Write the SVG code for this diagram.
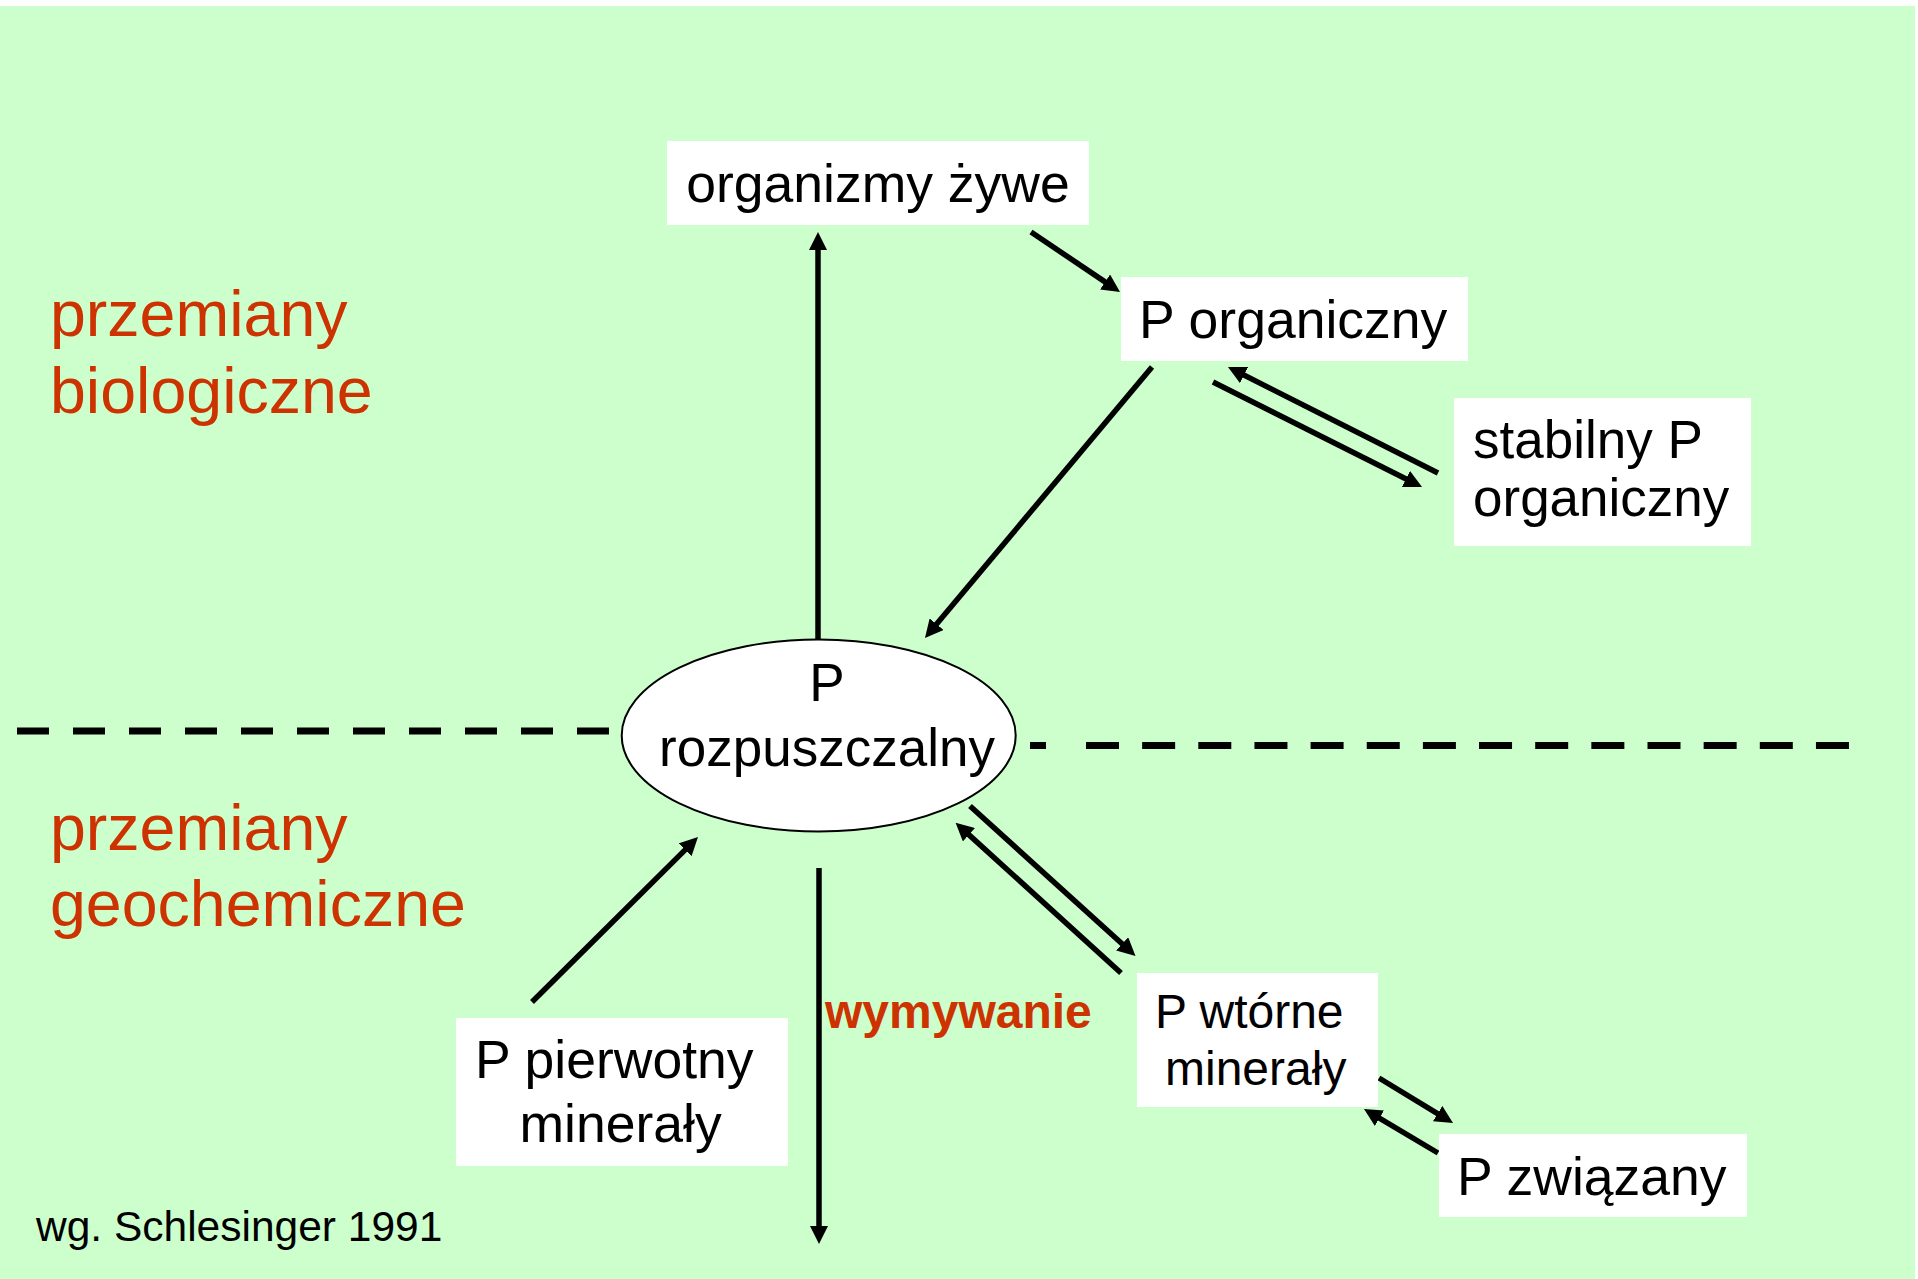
<svg xmlns="http://www.w3.org/2000/svg" width="1918" height="1279" viewBox="0 0 1918 1279">
<style>
.box{fill:#FFFFFF;stroke:none}
.t{font-family:"Liberation Sans",Arial,sans-serif;fill:#000000}
.red{font-family:"Liberation Sans",Arial,sans-serif;fill:#CC3300}
.arr{stroke:#000000;stroke-width:5.5;fill:none;marker-end:url(#ah)}
.dash{stroke:#000000;stroke-width:7;fill:none}
</style>
<defs>
<marker id="ah" markerUnits="userSpaceOnUse" markerWidth="18" markerHeight="18" viewBox="0 0 18 18" refX="8" refY="9" orient="auto">
<path d="M0,0 L18,9 L0,18 Z" fill="#000000"/>
</marker>
</defs>
<rect x="0" y="0" width="1918" height="1279" fill="#FFFFFF"/>
<rect x="0" y="6" width="1915" height="1273" fill="#CCFFCC"/>

<g id="labels">
<text class="red" font-size="64.5" x="50" y="336">przemiany</text>
<text class="red" font-size="64.5" x="50" y="413">biologiczne</text>
<text class="red" font-size="64.5" x="50" y="850">przemiany</text>
<text class="red" font-size="64.5" x="50" y="926">geochemiczne</text>
<text class="t" font-size="42.5" x="36" y="1241">wg. Schlesinger 1991</text>
</g>

<g id="divider">
<line class="dash" x1="17" y1="731" x2="610" y2="731" stroke-dasharray="32 24"/>
<line class="dash" x1="1030" y1="745.5" x2="1046" y2="745.5"/>
<line class="dash" x1="1086" y1="745.5" x2="1850" y2="745.5" stroke-dasharray="33 23.15"/>
</g>

<g id="connectors">
<line class="arr" x1="818" y1="640" x2="818" y2="242"/>
<line class="arr" x1="1031" y1="232" x2="1111.7" y2="286.4"/>
<line class="arr" x1="1152" y1="367" x2="931.4" y2="630.3"/>
<line class="arr" x1="1438" y1="473" x2="1236.9" y2="371.5"/>
<line class="arr" x1="1213" y1="382" x2="1413.1" y2="482.5"/>
<line class="arr" x1="532" y1="1002" x2="690.9" y2="844.1"/>
<line class="arr" x1="970" y1="806" x2="1128.1" y2="949.3"/>
<line class="arr" x1="1121" y1="973" x2="963" y2="829.4"/>
<line class="arr" x1="819" y1="868" x2="819" y2="1234"/>
<line class="arr" x1="1379" y1="1078" x2="1444.5" y2="1117.8"/>
<line class="arr" x1="1438" y1="1153" x2="1372.6" y2="1114.1"/>
</g>

<g id="organizmy">
<rect class="box" x="667" y="141" width="422" height="84"/>
<text class="t" font-size="53.5" x="878" y="202" text-anchor="middle">organizmy żywe</text>
</g>

<g id="p-organiczny">
<rect class="box" x="1121" y="277" width="347" height="84"/>
<text class="t" font-size="53.5" x="1139" y="338">P organiczny</text>
</g>

<g id="stabilny">
<rect class="box" x="1454" y="398" width="297" height="148"/>
<text class="t" font-size="53" x="1473" y="458">stabilny P</text>
<text class="t" font-size="53" x="1473" y="516">organiczny</text>
</g>

<g id="p-rozpuszczalny">
<ellipse cx="818.7" cy="735.5" rx="197" ry="96" fill="#FFFFFF" stroke="#000000" stroke-width="2"/>
<text class="t" font-size="53" x="827" y="701" text-anchor="middle">P</text>
<text class="t" font-size="53" x="827" y="766" text-anchor="middle">rozpuszczalny</text>
</g>

<g id="p-pierwotny">
<rect class="box" x="456" y="1018" width="332" height="148"/>
<text class="t" font-size="53.5" x="475" y="1078">P pierwotny</text>
<text class="t" font-size="53.5" x="519.5" y="1142">minerały</text>
</g>

<g id="wymywanie">
<text class="red" font-size="48" font-weight="bold" x="825" y="1028">wymywanie</text>
</g>

<g id="p-wtorne">
<rect class="box" x="1137" y="973" width="241" height="134"/>
<text class="t" font-size="48" x="1155" y="1028">P wtórne</text>
<text class="t" font-size="48" x="1165" y="1085">minerały</text>
</g>

<g id="p-zwiazany">
<rect class="box" x="1439" y="1134" width="308" height="83"/>
<text class="t" font-size="53.5" x="1457" y="1195">P związany</text>
</g>
</svg>
